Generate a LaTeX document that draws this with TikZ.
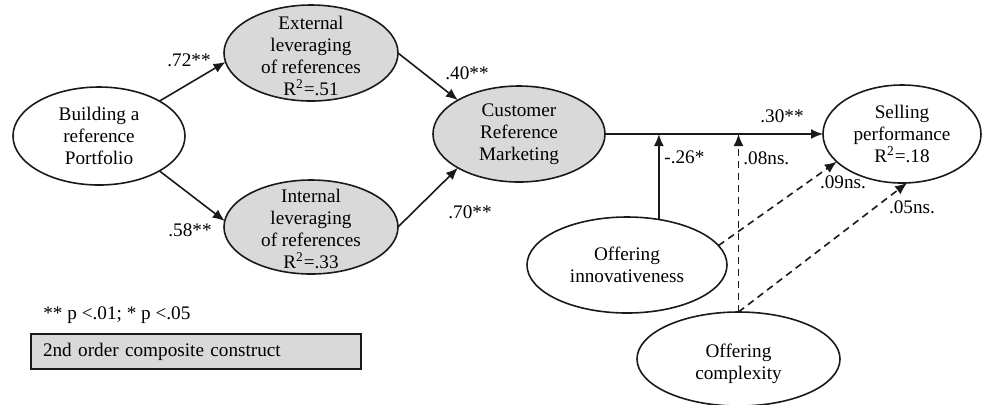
\documentclass[tikz,border=0pt]{standalone}
\usepackage{fontspec}
\setmainfont{Liberation Serif}
\usetikzlibrary{arrows.meta,shapes.geometric,positioning,calc}
\definecolor{lineC}   {HTML}{1A1A1A}
\definecolor{compFill}{HTML}{D9D9D9}
\tikzset{
  >={Latex[length=6pt,width=5pt]},
  construct/.style={draw=lineC,ellipse,line width=0.8pt,fill=white,
                    inner sep=0pt,outer sep=0pt},
  composite/.style={construct,fill=compFill},
  ctext/.style={font=\fontsize{9.6}{11}\selectfont,align=center,
                text=black,inner sep=0pt},
  coef/.style={font=\fontsize{9.6}{11}\selectfont,text=black,inner sep=0pt},
  legendbox/.style={draw=lineC,fill=compFill,line width=0.6pt,
                    minimum height=17.5pt,text width=153pt,inner xsep=6pt,
                    inner ysep=0pt,align=left,font=\fontsize{9.6}{11}\selectfont},
  sigline/.style={->,line width=0.8pt,lineC},
  nsline/.style={->,line width=0.8pt,lineC,dash pattern=on 3.5pt off 2.5pt},
}

\begin{document}
\begin{tikzpicture}[x=0.5pt,y=-0.5pt]
\useasboundingbox (0,0) rectangle (986,404);

% Constructs of the structural model.
\node[construct,minimum width=86pt,minimum height=49pt,
      label={[ctext]center:{Building a\\reference\\Portfolio}}]
      (build) at (99,136) {};
\node[composite,minimum width=87pt,minimum height=48pt,
      label={[ctext,yshift=-1.5pt]center:{External\\leveraging\\of references\\R\textsuperscript{2}=.51}}]
      (extlev) at (311,53) {};
\node[composite,minimum width=87pt,minimum height=47pt,
      label={[ctext,yshift=-1pt]center:{Internal\\leveraging\\of references\\R\textsuperscript{2}=.33}}]
      (intlev) at (311,227) {};
\node[composite,minimum width=86pt,minimum height=48pt,
      label={[ctext]center:{Customer\\Reference\\Marketing}}]
      (crm) at (519,134) {};
\node[construct,minimum width=79pt,minimum height=49pt,
      label={[ctext]center:{Selling\\performance\\R\textsuperscript{2}=.18}}]
      (selling) at (902,134) {};
\node[construct,minimum width=100pt,minimum height=48pt,
      label={[ctext]center:{Offering\\innovativeness}}]
      (innov) at (627,265) {};
\node[construct,minimum width=101.5pt,minimum height=47pt,
      label={[ctext,yshift=-2.5pt]center:{Offering\\complexity}}]
      (complex) at (738.5,359) {};

% Direct paths.
\draw[sigline] (build.30)    -- (extlev.186);
\draw[sigline] (build.-30)   -- (intlev.176);
\draw[sigline] (extlev.east) -- (crm.151);
\draw[sigline] (intlev.east) -- (crm.209);
\draw[sigline] (crm.east)    -- (selling.west);

% Moderating effects onto the CRM -> selling path.
\coordinate (modInnov) at (innov.55 |- crm.east);
\coordinate (modCompl) at (complex.north |- crm.east);
\draw[sigline] (innov.55) -- (modInnov);
\draw[nsline] (complex.north) -- (modCompl);
\draw[nsline] (innov.12) -- (selling.203);
\draw[nsline] (complex.north) -- (selling.-84);

% Path coefficients.
\node[coef] (c72) at (189,60)  {.72**};
\node[coef] (c58) at (190,230) {.58**};
\node[coef] (c40) at (467,73)  {.40**};
\node[coef] (c70) at (470,212) {.70**};
\node[coef] (c30) at (782,116) {.30**};
\node[coef,anchor=west] (c26) at (664,157) {-.26*};
\node[coef,anchor=west] (c08) at (743,158) {.08ns.};
\node[coef] (c09) at (843,182) {.09ns.};
\node[coef] (c05) at (912,207) {.05ns.};

% Legend.
\node[coef,anchor=west] (signote) at (43,315) {** p <.01; * p <.05};
\node[legendbox] (legend) at (196,351.5) {2nd order composite construct};

\end{tikzpicture}
\end{document}
